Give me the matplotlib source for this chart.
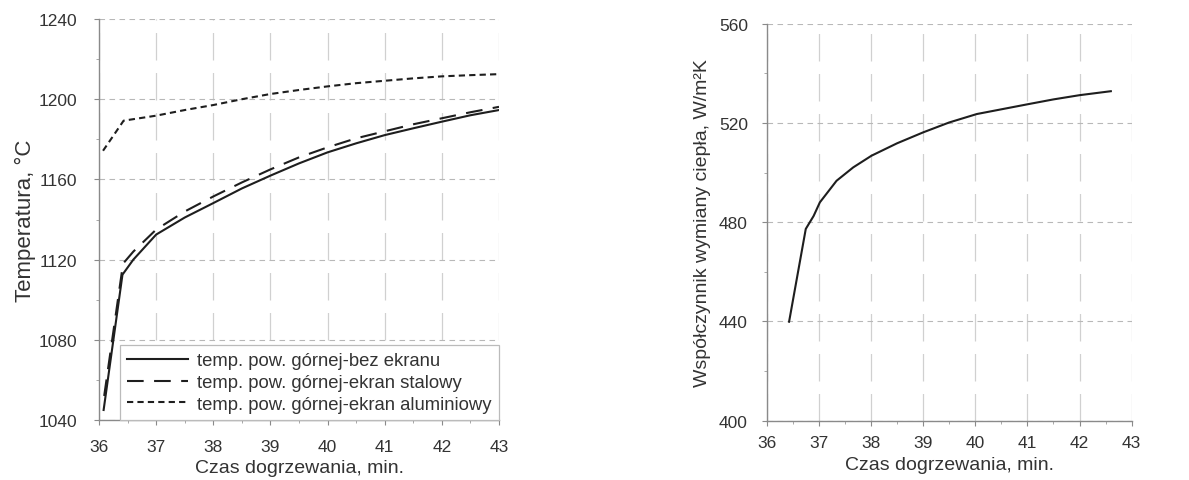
import matplotlib
matplotlib.use('Agg')
import matplotlib.pyplot as plt
from matplotlib.ticker import MultipleLocator

plt.rcParams['font.family'] = ['Liberation Sans', 'DejaVu Sans']
plt.rcParams['font.size'] = 12.5

# left chart: temperature of the upper surface
t_bez = [36.08, 36.41, 36.6, 37.0, 37.5, 38.0, 38.5, 39.0, 39.5, 40.0, 40.5, 41.0, 41.5, 42.0, 42.5, 43.0]
T_bez = [1045, 1112.5, 1120, 1132.5, 1141, 1148.2, 1155.5, 1161.9, 1168, 1173.5, 1178, 1182.1, 1185.5, 1188.8, 1192, 1194.6]

t_stal = [36.09, 36.42, 36.6, 37.0, 37.5, 38.0, 38.5, 39.0, 39.5, 40.0, 40.5, 41.0, 41.5, 42.0, 42.5, 43.0]
T_stal = [1052, 1118, 1124, 1135, 1144, 1151.5, 1158.5, 1165, 1171, 1176, 1180.5, 1184, 1187.5, 1190.5, 1193.5, 1196.2]

t_alu = [36.07, 36.43, 37.0, 37.5, 38.0, 38.5, 39.0, 39.5, 40.0, 40.5, 41.0, 41.5, 42.0, 42.5, 43.0]
T_alu = [1174.3, 1189.3, 1191.8, 1194.6, 1197.1, 1200, 1202.6, 1204.6, 1206.4, 1208, 1209.2, 1210.4, 1211.4, 1212, 1212.5]

labels = ['temp. pow. górnej-bez ekranu',
          'temp. pow. górnej-ekran stalowy',
          'temp. pow. górnej-ekran aluminiowy']

# right chart: heat transfer coefficient
t_h = [36.43, 36.75, 36.9, 37.02, 37.34, 37.66, 38.01, 38.5, 39.0, 39.5, 40.03, 40.5, 41.02, 41.5, 42.0, 42.6]
h = [439.9, 477.3, 482.5, 488, 496.7, 502.1, 506.8, 511.8, 516.2, 520.2, 523.6, 525.5, 527.6, 529.5, 531.2, 532.8]

line_col = '#1e1e1e'
text_col = '#333333'

fig = plt.figure(figsize=(11.89, 4.81), dpi=100)
ax1 = fig.add_axes([0.0833, 0.1247, 0.3364, 0.8337])
ax2 = fig.add_axes([0.6448, 0.1233, 0.307, 0.8253])


def style_axes(ax, xpad, ypad):
    for s in ['top', 'right']:
        ax.spines[s].set_visible(False)
    for s in ['left', 'bottom']:
        ax.spines[s].set_color('#8a8a8a')
        ax.spines[s].set_linewidth(1.0)
    ax.xaxis.set_major_locator(MultipleLocator(1))
    ax.xaxis.set_minor_locator(MultipleLocator(0.5))
    ax.tick_params(which='major', direction='out', length=3.5, color='#8a8a8a',
                   labelcolor=text_col, labelsize=12.5)
    ax.tick_params(which='minor', direction='out', length=2.5, color='#9a9a9a')
    ax.tick_params(axis='x', which='major', pad=xpad)
    ax.tick_params(axis='y', which='major', pad=ypad)
    ax.grid(True, which='major', axis='y', color='#b8b8b8', linestyle=(0, (5, 4)), linewidth=0.8)
    ax.grid(True, which='major', axis='x', color='#d0d0d0', linestyle=(0, (22, 10)), linewidth=0.9)


style_axes(ax1, 10, 12)
ax1.plot(t_bez, T_bez, color=line_col, linewidth=1.5, linestyle='-', label=labels[0])
ax1.plot(t_stal, T_stal, color=line_col, linewidth=1.5, linestyle=(0, (8, 5)), label=labels[1])
ax1.plot(t_alu, T_alu, color=line_col, linewidth=1.5, linestyle=(0, (3, 2)), label=labels[2])
ax1.set_xlim(36, 43)
ax1.set_ylim(1040, 1240)
ax1.yaxis.set_major_locator(MultipleLocator(40))
ax1.yaxis.set_minor_locator(MultipleLocator(20))
ax1.set_xlabel('Czas dogrzewania, min.', color=text_col, fontsize=14, labelpad=4)
ax1.set_ylabel('Temperatura, °C', color=text_col, fontsize=16, labelpad=2)
leg = ax1.legend(loc='lower right', bbox_to_anchor=(1.0, 0.0), borderaxespad=0,
                 fancybox=False, edgecolor='#bbbbbb', framealpha=1, fontsize=13.3,
                 handlelength=3.3, handletextpad=0.5, labelspacing=0.25, borderpad=0.4)
leg.get_frame().set_linewidth(0.9)
for t in leg.get_texts():
    t.set_color(text_col)

style_axes(ax2, 7, 10)
ax2.plot(t_h, h, color=line_col, linewidth=1.5)
ax2.set_xlim(36, 43)
ax2.set_ylim(400, 560)
ax2.yaxis.set_major_locator(MultipleLocator(40))
ax2.yaxis.set_minor_locator(MultipleLocator(20))
ax2.set_xlabel('Czas dogrzewania, min.', color=text_col, fontsize=14, labelpad=4)
ax2.set_ylabel('Współczynnik wymiany ciepła, W/m²K', color=text_col, fontsize=14, labelpad=6)

fig.savefig('out.png', dpi=100)
